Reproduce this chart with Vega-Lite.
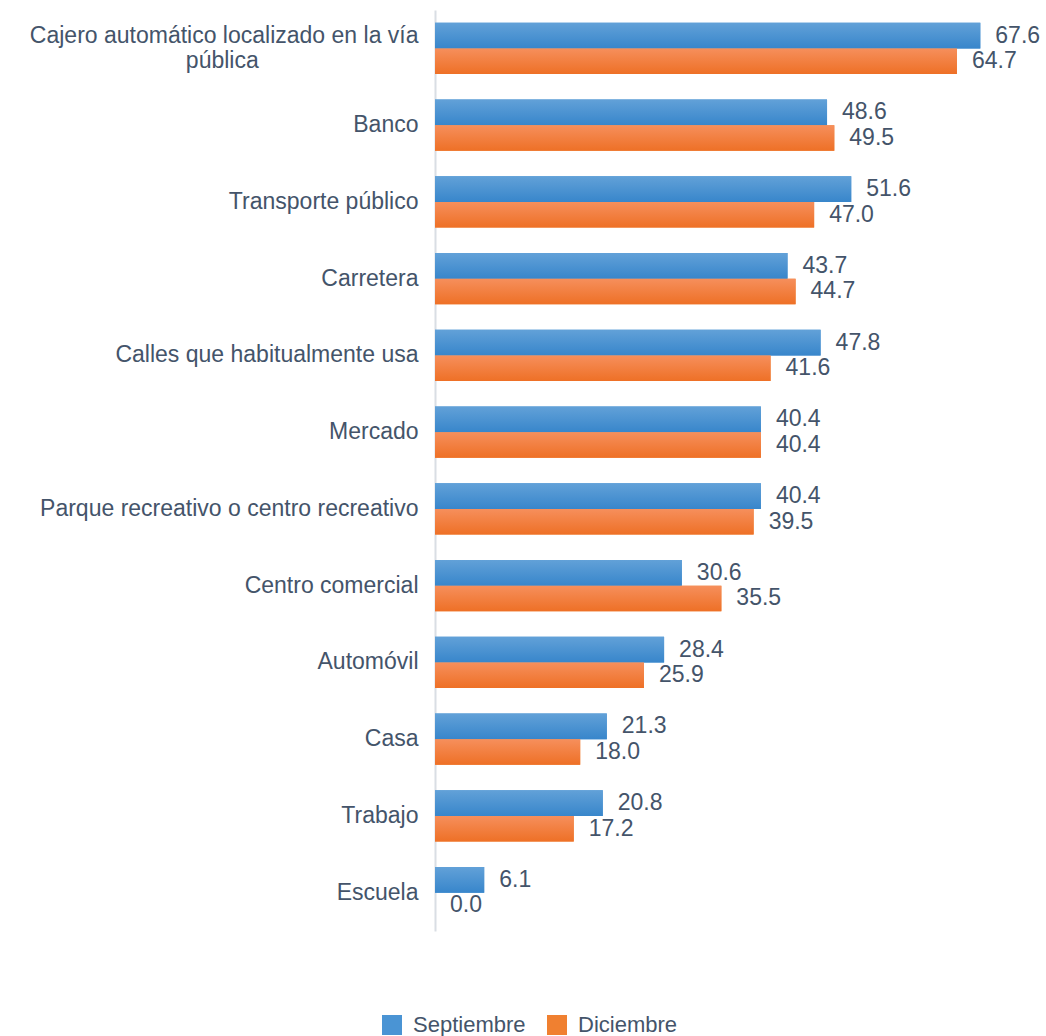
{
  "$schema": "https://vega.github.io/schema/vega-lite/v6.json",
  "width": 605,
  "height": 921,
  "autosize": "none",
  "padding": {"left": 435, "top": 10, "right": 6, "bottom": 105},
  "background": "white",
  "config": {
    "view": {"stroke": null},
    "font": "Liberation Sans"
  },
  "data": {
    "values": [
      {"cat": "Cajero automático localizado en la vía|pública\u00a0\u00a0\u00a0\u00a0\u00a0\u00a0\u00a0\u00a0\u00a0\u00a0\u00a0\u00a0\u00a0\u00a0\u00a0\u00a0\u00a0\u00a0\u00a0\u00a0\u00a0\u00a0\u00a0\u00a0\u00a0\u200b", "series": "Septiembre", "value": 67.6},
      {"cat": "Cajero automático localizado en la vía|pública\u00a0\u00a0\u00a0\u00a0\u00a0\u00a0\u00a0\u00a0\u00a0\u00a0\u00a0\u00a0\u00a0\u00a0\u00a0\u00a0\u00a0\u00a0\u00a0\u00a0\u00a0\u00a0\u00a0\u00a0\u00a0\u200b", "series": "Diciembre", "value": 64.7},
      {"cat": "Banco", "series": "Septiembre", "value": 48.6},
      {"cat": "Banco", "series": "Diciembre", "value": 49.5},
      {"cat": "Transporte público", "series": "Septiembre", "value": 51.6},
      {"cat": "Transporte público", "series": "Diciembre", "value": 47.0},
      {"cat": "Carretera", "series": "Septiembre", "value": 43.7},
      {"cat": "Carretera", "series": "Diciembre", "value": 44.7},
      {"cat": "Calles que habitualmente usa", "series": "Septiembre", "value": 47.8},
      {"cat": "Calles que habitualmente usa", "series": "Diciembre", "value": 41.6},
      {"cat": "Mercado", "series": "Septiembre", "value": 40.4},
      {"cat": "Mercado", "series": "Diciembre", "value": 40.4},
      {"cat": "Parque recreativo o centro recreativo", "series": "Septiembre", "value": 40.4},
      {"cat": "Parque recreativo o centro recreativo", "series": "Diciembre", "value": 39.5},
      {"cat": "Centro comercial", "series": "Septiembre", "value": 30.6},
      {"cat": "Centro comercial", "series": "Diciembre", "value": 35.5},
      {"cat": "Automóvil", "series": "Septiembre", "value": 28.4},
      {"cat": "Automóvil", "series": "Diciembre", "value": 25.9},
      {"cat": "Casa", "series": "Septiembre", "value": 21.3},
      {"cat": "Casa", "series": "Diciembre", "value": 18.0},
      {"cat": "Trabajo", "series": "Septiembre", "value": 20.8},
      {"cat": "Trabajo", "series": "Diciembre", "value": 17.2},
      {"cat": "Escuela", "series": "Septiembre", "value": 6.1},
      {"cat": "Escuela", "series": "Diciembre", "value": 0.0}
    ]
  },
  "encoding": {
    "y": {
      "field": "cat",
      "type": "nominal",
      "sort": null,
      "scale": {"paddingInner": 0.33, "paddingOuter": 0.165},
      "axis": {
        "title": null,
        "ticks": false,
        "grid": false,
        "domain": true,
        "domainColor": "#d9dee4",
        "domainWidth": 2,
        "labelPadding": 17,
        "labelFontSize": 23,
        "labelColor": "#44546a",
        "labelFont": "Liberation Sans",
        "labelLimit": 600,
        "labelLineHeight": 25,
        "labelOffset": {"condition": {"test": "indexof(datum.value, 'Cajero') >= 0", "value": -12}, "value": 0},
        "labelExpr": "split(datum.label, '|')"
      }
    },
    "yOffset": {
      "field": "series",
      "type": "nominal",
      "sort": ["Septiembre", "Diciembre"],
      "scale": {"paddingInner": 0, "paddingOuter": 0}
    },
    "x": {
      "field": "value",
      "type": "quantitative",
      "scale": {"domain": [0, 75], "nice": false},
      "axis": null
    }
  },
  "layer": [
    {
      "mark": {"type": "bar"},
      "encoding": {
        "color": {
          "field": "series",
          "type": "nominal",
          "sort": ["Septiembre", "Diciembre"],
          "scale": {"domain": ["Septiembre", "Diciembre"], "range": ["#4a94d4", "#f08030"]},
          "legend": {
            "title": null,
            "orient": "none",
            "direction": "horizontal",
            "legendX": -54,
            "legendY": 1004,
            "symbolType": "square",
            "symbolSize": 400,
            "symbolStrokeWidth": 0,
            "labelFontSize": 22,
            "labelColor": "#44546a",
            "labelFont": "Liberation Sans",
            "labelOffset": 10,
            "columnPadding": 20
          }
        }
      }
    },
    {
      "transform": [{"filter": "datum.series === 'Septiembre'"}],
      "mark": {
        "type": "bar",
        "color": {
          "gradient": "linear", "x1": 0, "y1": 0, "x2": 0, "y2": 1,
          "stops": [{"offset": 0, "color": "#62a1d8"}, {"offset": 1, "color": "#3886cb"}]
        }
      }
    },
    {
      "transform": [{"filter": "datum.series === 'Diciembre'"}],
      "mark": {
        "type": "bar",
        "color": {
          "gradient": "linear", "x1": 0, "y1": 0, "x2": 0, "y2": 1,
          "stops": [{"offset": 0, "color": "#f68f5c"}, {"offset": 1, "color": "#ee7026"}]
        }
      }
    },
    {
      "mark": {
        "type": "text",
        "align": "left",
        "baseline": "middle",
        "dx": 15,
        "fontSize": 23,
        "color": "#44546a",
        "font": "Liberation Sans"
      },
      "encoding": {
        "text": {"field": "value", "type": "quantitative", "format": ".1f"}
      }
    }
  ]
}
